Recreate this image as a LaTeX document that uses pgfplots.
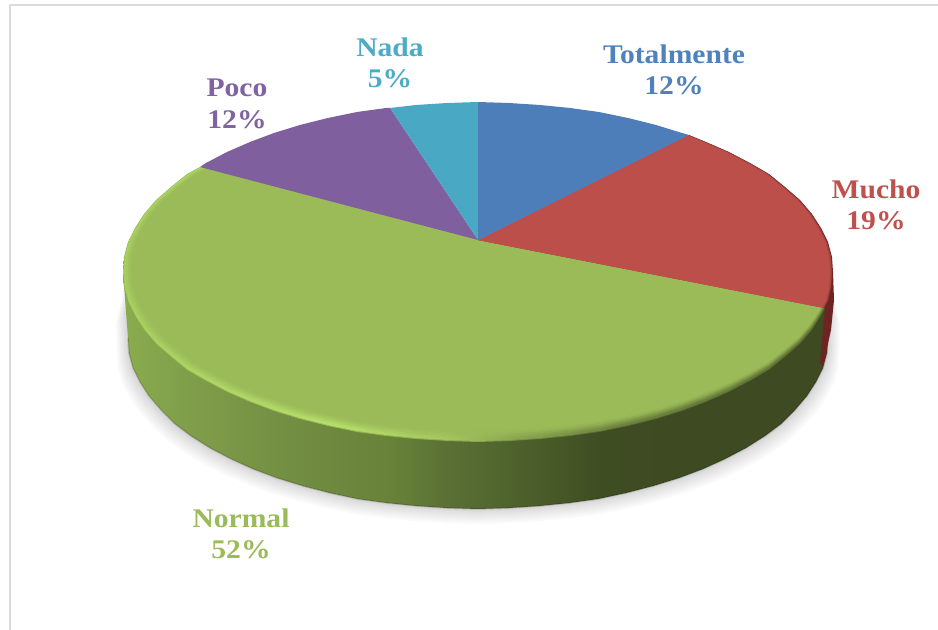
\documentclass[border=0pt]{standalone}
\usepackage{pgfplots}
\usepackage{pgfplotstable}
\usepackage{fontspec}
\setmainfont[FakeStretch=1.1]{Liberation Serif}
\pgfplotsset{compat=1.18}
\definecolor{cBlue}{HTML}{4E7EBA}
\definecolor{cRed}{HTML}{BD4F4B}
\definecolor{cGreen}{HTML}{9BBB59}
\definecolor{cPurple}{HTML}{7F5F9E}
\definecolor{cCyan}{HTML}{49A9C4}
\definecolor{lBlue}{HTML}{4F81BD}
\definecolor{lRed}{HTML}{C0504D}
\definecolor{lPurple}{HTML}{8064A2}
\definecolor{lCyan}{HTML}{4BACC6}
\definecolor{cRedDark}{HTML}{6D2422}
\definecolor{s1}{HTML}{8AAC4E}\definecolor{s2}{HTML}{7F9D4A}\definecolor{s3}{HTML}{728E42}
\definecolor{s4}{HTML}{688239}\definecolor{s5}{HTML}{5A7034}\definecolor{s6}{HTML}{4E612C}
\definecolor{s7}{HTML}{3F4D23}\definecolor{s8}{HTML}{3E4A22}
\pgfdeclarehorizontalshading{sideg}{100bp}{
 color(0bp)=(s1); color(25bp)=(s1); color(30bp)=(s2); color(37bp)=(s3); color(44bp)=(s4);
 color(48bp)=(s5); color(53bp)=(s6); color(59bp)=(s7); color(66bp)=(s8); color(100bp)=(s8)}
\definecolor{r1}{HTML}{8FB04F}\definecolor{r2}{HTML}{98B955}\definecolor{r3}{HTML}{8AA650}
\definecolor{r4}{HTML}{5E7234}\definecolor{r5}{HTML}{465626}
\pgfdeclarehorizontalshading{rimout}{100bp}{
 color(0bp)=(r1); color(25bp)=(r1); color(40bp)=(r2); color(50bp)=(r3); color(58bp)=(r4); color(75bp)=(r5); color(100bp)=(r5)}
\definecolor{b1}{HTML}{A8CE60}\definecolor{b2}{HTML}{B6DE6B}\definecolor{b3}{HTML}{A4C65E}
\definecolor{b4}{HTML}{8AA650}\definecolor{b5}{HTML}{6E843E}\definecolor{b6}{HTML}{5C6F33}
\pgfdeclarehorizontalshading{rimin}{100bp}{
 color(0bp)=(b1); color(25bp)=(b1); color(40bp)=(b2); color(48bp)=(b3); color(53bp)=(b4); color(60bp)=(b5); color(75bp)=(b6); color(100bp)=(b6)}

\pgfplotstableread{
x y
478 240
816 250
829 310
828 338
827 353
823 368
816 382
807 396
795 410
781 424
765 436
746 448
725 459
703 469
679 478
653 486
626 493
598 499
569 503
539 506
509 508
478 509
447 508
417 506
387 503
358 499
330 493
303 486
277 478
253 469
231 459
210 448
191 436
175 424
161 410
149 396
140 382
133 368
129 353
128 338
127 310
140 250
}\shadowarc

\pgfplotstableread{
x y
828 338
827 353
823 368
816 382
807 396
795 410
781 424
765 436
746 448
725 459
703 469
679 478
653 486
626 493
598 499
569 503
539 506
509 508
478 509
447 508
417 506
387 503
358 499
330 493
303 486
277 478
253 469
231 459
210 448
191 436
175 424
161 410
149 396
140 382
133 368
129 353
128 338
}\bottomarc

\pgfplotstableread{
x y
478 240
825 308
821 316
812 330
800 344
785 357
769 370
750 381
729 392
706 402
682 411
656 419
628 426
599 432
570 436
540 439
509 441
478 442
447 441
416 439
386 436
357 432
328 426
300 419
274 411
250 402
227 392
206 381
187 370
171 357
156 344
144 330
135 316
128 302
124 287
123 272
124 257
128 242
135 228
144 214
156 200
171 187
187 174
200 167
}\greenslice

\pgfplotstableread{
x y
478 240
689 135
706 142
729 152
750 163
769 174
785 187
800 200
812 214
821 228
828 242
832 257
833 272
832 287
829 300
825 308
}\redslice

\newcommand{\greenlayer}[3]{\addplot[draw=none,mark=none,#3] table[x expr={700+(\thisrow{x}-700)*#1},y expr={200+(\thisrow{y}-200)*#2}] {\greenslice};}
\newcommand{\redlayer}[3]{\addplot[draw=none,mark=none,#3] table[x expr={478+(\thisrow{x}-478)*#1},y expr={240+(\thisrow{y}-240)*#2}] {\redslice};}
\newcommand{\shadowlayer}[2]{\addplot[draw=none,mark=none,fill=black,fill opacity=0.02] table[x expr={478+(\thisrow{x}-478)*#1},y expr={\thisrow{y}+#2}] {\shadowarc};}
\tikzset{lab/.style={font=\fontsize{27}{31.5}\selectfont\bfseries,align=center,inner sep=0pt}}

\begin{document}
\begin{tikzpicture}
\begin{axis}[
  width=938bp,height=630bp,scale only axis,
  xmin=0,xmax=938,ymin=0,ymax=630,y dir=reverse,
  hide axis,
]
% full canvas
\addplot[draw=none,mark=none,fill=white] coordinates {(0,0)(938,0)(938,630)(0,630)};
% frame
\addplot[mark=none,color=black!14,line width=1.4bp] coordinates {(10,630)(10,5)(938,5)};
% shadow
\shadowlayer{1.032}{15}
\shadowlayer{1.028}{13}
\shadowlayer{1.024}{11}
\shadowlayer{1.020}{9}
\shadowlayer{1.016}{7}
\shadowlayer{1.012}{5}
\shadowlayer{1.008}{3}
\shadowlayer{1.004}{2}
% side wall (green)
\addplot[draw=none,mark=none,shading=sideg] coordinates {
(123,272)(828,272)(828,338)(827,353)(823,368)(816,382)(807,396)(795,410)(781,424)(765,436)(746,448)(725,459)(703,469)(679,478)(653,486)(626,493)(598,499)(569,503)(539,506)(509,508)(478,509)(447,508)(417,506)(387,503)(358,499)(330,493)(303,486)(277,478)(253,469)(231,459)(210,448)(191,436)(175,424)(161,410)(149,396)(140,382)(133,368)(129,353)(128,338)};
\addplot[mark=none,color=black,opacity=0.16,line width=1.5bp] table {\bottomarc};
% side wall (red)
\addplot[draw=none,mark=none,fill=cRedDark] coordinates {(825,272)(833,272)(834,300)(831,330)(823,366)(820,363)(825,308)};
% green top
\greenlayer{1}{1}{shading=rimout}
\greenlayer{0.999}{0.996}{shading=rimin}
\greenlayer{0.995}{0.985}{fill=cGreen,fill opacity=0.25}
\greenlayer{0.992}{0.977}{fill=cGreen,fill opacity=0.35}
\greenlayer{0.989}{0.969}{fill=cGreen,fill opacity=0.5}
\greenlayer{0.986}{0.961}{fill=cGreen,fill opacity=0.7}
\greenlayer{0.984}{0.953}{fill=cGreen}
% red top
\redlayer{1}{1}{fill=cRedDark}
\redlayer{0.998}{0.999}{fill=cRed,fill opacity=0.4}
\redlayer{0.996}{0.998}{fill=cRed,fill opacity=0.6}
\redlayer{0.992}{0.996}{fill=cRed}
% purple
\addplot[draw=none,mark=none,fill=cPurple] coordinates {(478,240)(200,167)(206,163)(227,152)(250,142)(274,133)(300,125)(328,118)(357,112)(386,108)(390,108)};
% cyan
\addplot[draw=none,mark=none,fill=cCyan] coordinates {(478,240)(390,108)(416,105)(447,103)(478,102)};
% blue
\addplot[draw=none,mark=none,fill=cBlue] coordinates {(478,240)(478,102)(509,103)(540,105)(570,108)(599,112)(628,118)(656,125)(682,133)(689,135)};
% labels
\node[lab,text=lBlue] at (axis cs:674,70) {Totalmente\\12\%};
\node[lab,text=lRed] at (axis cs:876,205) {Mucho\\19\%};
\node[lab,text=cGreen] at (axis cs:241,534) {Normal\\52\%};
\node[lab,text=lPurple] at (axis cs:237,104) {Poco\\12\%};
\node[lab,text=lCyan] at (axis cs:390,63) {Nada\\5\%};
\end{axis}
\end{tikzpicture}
\end{document}
